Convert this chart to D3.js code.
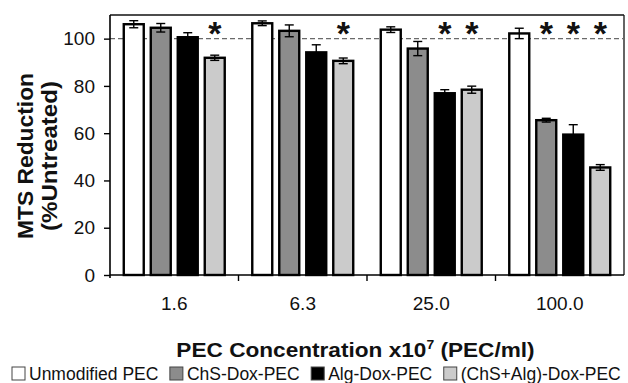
<!DOCTYPE html>
<html>
<head>
<meta charset="utf-8">
<script src="https://cdn.jsdelivr.net/npm/d3@7/dist/d3.min.js"></script>
<style>
  html, body { margin: 0; padding: 0; background: #fff; }
  svg { display: block; font-family: "Liberation Sans", Arial, Helvetica, sans-serif; }
</style>
</head>
<body>
<svg id="chart" width="628" height="383"></svg>
<script>
// ---- data ----
const categories = ["1.6", "6.3", "25.0", "100.0"];
const seriesNames = ["Unmodified PEC", "ChS-Dox-PEC", "Alg-Dox-PEC", "(ChS+Alg)-Dox-PEC"];
const seriesColors = ["#ffffff", "#8c8c8c", "#000000", "#cbcbcb"];
const unmodified = [106.1, 106.5, 103.8, 102.2];
const chsDox     = [104.6, 103.3, 95.8, 65.5];
const algDox     = [100.6, 94.2, 76.9, 59.4];
const chsAlgDox  = [91.9, 90.6, 78.4, 45.5];
const errUnmodified = [1.5, 1.0, 1.2, 2.2];
const errChsDox     = [1.8, 2.5, 3.0, 0.8];
const errAlgDox     = [1.9, 3.2, 1.5, 4.2];
const errChsAlgDox  = [1.1, 1.2, 1.5, 1.2];
// indices of series marked with an asterisk, per category
const significance = [[3], [3], [2, 3], [1, 2, 3]];
const yTicks = [0, 20, 40, 60, 80, 100];
const referenceLine = 100;
const yTitleLines = ["MTS Reduction", "(%Untreated)"];

const values = [unmodified, chsDox, algDox, chsAlgDox];
const errors = [errUnmodified, errChsDox, errAlgDox, errChsAlgDox];

// ---- layout ----
const svg = d3.select("#chart");
const L = 110, R = 624, T = 15, B = 275;

const x0 = d3.scaleBand().domain(categories).range([L, R]).padding(0);
const x1 = d3.scaleBand().domain(d3.range(seriesNames.length))
  .range([0, x0.bandwidth()]).paddingInner(0.26).paddingOuter(0.51);
const y = d3.scaleLinear().domain([0, 110]).range([B, T]);

// frame (top & right)
svg.append("line").attr("x1", L).attr("x2", R).attr("y1", T).attr("y2", T)
  .attr("stroke", "#111").attr("stroke-width", 1.3);
svg.append("line").attr("x1", R).attr("x2", R).attr("y1", T).attr("y2", B)
  .attr("stroke", "#111").attr("stroke-width", 1.3);

// reference dashed line
svg.append("line")
  .attr("x1", L).attr("x2", R)
  .attr("y1", y(referenceLine)).attr("y2", y(referenceLine))
  .attr("stroke", "#6a6a6a").attr("stroke-width", 1.2)
  .attr("stroke-dasharray", "5,3");

// bars
const groups = svg.append("g").selectAll("g")
  .data(categories).join("g")
  .attr("transform", d => `translate(${x0(d)},0)`);

groups.each(function(cat, ci) {
  const g = d3.select(this);
  seriesNames.forEach((s, si) => {
    const v = values[si][ci];
    g.append("rect")
      .attr("x", x1(si))
      .attr("y", y(v))
      .attr("width", x1.bandwidth())
      .attr("height", y(0) - y(v))
      .attr("fill", seriesColors[si])
      .attr("stroke", "#000")
      .attr("stroke-width", 2.4);
  });
  seriesNames.forEach((s, si) => {
    const v = values[si][ci], e = errors[si][ci];
    const cx = x1(si) + x1.bandwidth() / 2;
    const eg = g.append("g").attr("stroke", "#000").attr("stroke-width", 1.4);
    eg.append("line").attr("x1", cx).attr("x2", cx).attr("y1", y(v + e)).attr("y2", y(v - e));
    eg.append("line").attr("x1", cx - 4.5).attr("x2", cx + 4.5).attr("y1", y(v + e)).attr("y2", y(v + e));
    eg.append("line").attr("x1", cx - 4.5).attr("x2", cx + 4.5).attr("y1", y(v - e)).attr("y2", y(v - e));
  });
  significance[ci].forEach(si => {
    g.append("text")
      .attr("x", x1(si) + x1.bandwidth() / 2)
      .attr("y", 44.5)
      .attr("text-anchor", "middle")
      .attr("font-size", 34)
      .attr("font-weight", "bold")
      .attr("fill", "#111")
      .text("*");
  });
});

// y axis
const yAxis = svg.append("g")
  .attr("transform", `translate(${L},0)`)
  .call(d3.axisLeft(y).tickValues(yTicks).tickSize(6).tickPadding(9).tickSizeOuter(0));
yAxis.select(".domain").attr("stroke", "#000").attr("stroke-width", 1.6)
  .attr("d", `M0,${T}V${B + 3}`);
yAxis.selectAll(".tick line").attr("stroke", "#000").attr("stroke-width", 1.4);
yAxis.selectAll(".tick text").attr("font-size", 19).attr("fill", "#111")
  .attr("font-family", "'Liberation Sans', Arial, sans-serif");

// x axis
const xAxis = svg.append("g")
  .attr("transform", `translate(0,${B})`)
  .call(d3.axisBottom(x0).tickSize(0).tickPadding(0));
xAxis.select(".domain").attr("stroke", "#000").attr("stroke-width", 1.6)
  .attr("d", `M${L},0H${R}`);
xAxis.selectAll(".tick text")
  .attr("y", 35).attr("dy", 0)
  .attr("font-size", 19).attr("fill", "#111")
  .attr("font-family", "'Liberation Sans', Arial, sans-serif");
// separator ticks between categories
xAxis.append("g").selectAll("line")
  .data(categories.slice(1)).join("line")
  .attr("x1", d => x0(d)).attr("x2", d => x0(d))
  .attr("y1", 0).attr("y2", 6)
  .attr("stroke", "#000").attr("stroke-width", 1.4);

// x axis title
const xt = svg.append("g").attr("transform", "translate(355.5,357) scale(1.16,1)")
  .append("text")
  .attr("text-anchor", "middle")
  .attr("font-size", 19.5)
  .attr("font-weight", "bold")
  .attr("fill", "#111");
xt.append("tspan").text("PEC Concentration x10");
xt.append("tspan").attr("dy", -8).attr("font-size", 12).text("7");
xt.append("tspan").attr("dy", 8).text(" (PEC/ml)");

// y axis title
const yLineX = [33, 57];
const yLineLen = [166, 150];
yTitleLines.forEach((t, i) => {
  svg.append("text")
    .attr("transform", `translate(${yLineX[i]},156) rotate(-90)`)
    .attr("text-anchor", "middle")
    .attr("font-size", 22)
    .attr("font-weight", "bold")
    .attr("fill", "#111")
    .attr("textLength", yLineLen[i])
    .attr("lengthAdjust", "spacingAndGlyphs")
    .text(t);
});

// legend
const legend = svg.append("g");
let lx = 12;
seriesNames.forEach((s, si) => {
  legend.append("rect")
    .attr("x", lx).attr("y", 367).attr("width", 13).attr("height", 13)
    .attr("fill", seriesColors[si]).attr("stroke", "#444").attr("stroke-width", 1);
  const tx = legend.append("text")
    .attr("x", lx + 17).attr("y", 380)
    .attr("font-size", 17.5).attr("fill", "#111")
    .text(s);
  lx = lx + 17 + tx.node().getComputedTextLength() + 11.5;
});
</script>
</body>
</html>
